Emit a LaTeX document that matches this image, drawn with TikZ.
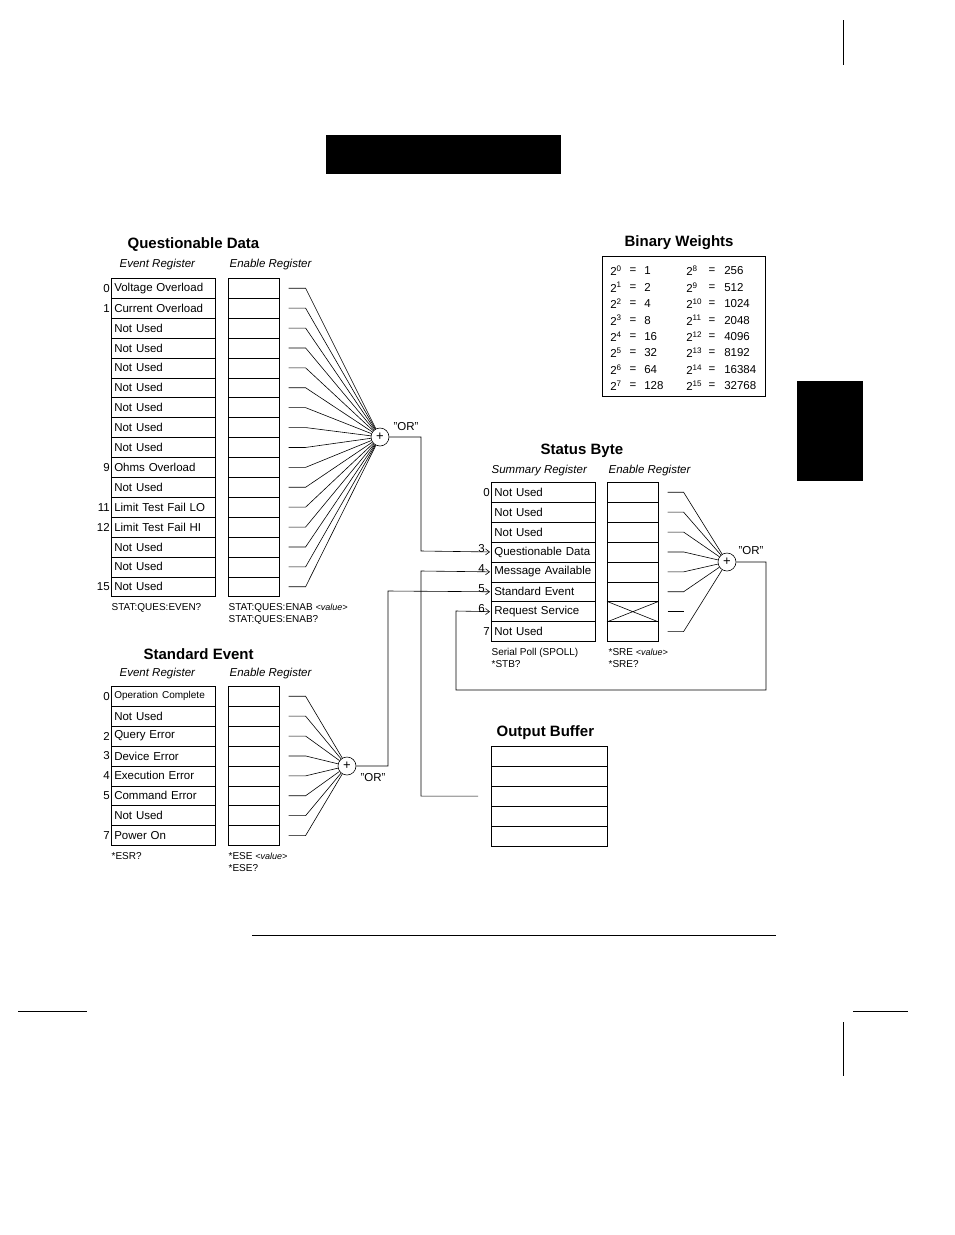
\documentclass[tikz,border=0pt]{standalone}
\usepackage{fontspec}
\setmainfont{Liberation Sans}
\usetikzlibrary{arrows.meta, positioning, calc}

\begin{document}
\begin{tikzpicture}[
    x=1pt, y=-1pt,
    font=\fontsize{11.5}{13}\selectfont,
    line width=0.6pt,
    cell/.style={draw, minimum height=19.9pt, inner xsep=3pt, inner ysep=0pt, anchor=north west, align=left},
    evcell/.style={cell, text width=98pt, minimum width=104pt},
    encell/.style={cell, minimum width=51pt},
    orgate/.style={draw, circle, fill=white, minimum size=18pt, inner sep=0pt, font=\fontsize{13}{13}\selectfont},
    title/.style={font=\fontsize{15}{17}\selectfont\bfseries, anchor=west},
    head/.style={font=\fontsize{11.5}{13}\selectfont\itshape, anchor=west},
    cmd/.style={font=\fontsize{10}{12}\selectfont, anchor=west, align=left},
    bitnum/.style={anchor=east, inner sep=1pt},
    feed/.style={-{Straight Barb[length=4pt, width=6pt]}}
]
    \useasboundingbox (0,0) rectangle (954,1235);

    % Page marks
    \fill (326,135) rectangle (561,174);
    \fill (797,381) rectangle (863,481);
    \draw (843,20) -- (843,65);
    \draw (252,935) -- (776,935);
    \draw (18,1011) -- (87,1011);
    \draw (853,1011) -- (908,1011);
    \draw (843,1022) -- (843,1076);

    % Questionable Data
    \node[title] at (124,245) {Questionable Data};
    \node[head] at (116,265) {Event Register};
    \node[head] at (226,265) {Enable Register};
    \node[orgate] (qor) at (380,437) {+};
    \node[anchor=west] at (390,427) {"OR"};
    \foreach \t [count=\i from 0] in {Voltage Overload, Current Overload, Not Used, Not Used,
        Not Used, Not Used, Not Used, Not Used, Not Used, Ohms Overload, Not Used,
        Limit Test Fail LO, Limit Test Fail HI, Not Used, Not Used, Not Used} {
        \pgfmathsetmacro\yy{278+19.9*\i}
        \node[evcell] (qe\i) at (111,\yy) {\t};
        \node[encell] (qn\i) at (228,\yy) {};
        \coordinate (qs\i) at ($(qn\i.east)+(9,0)$);
        \draw (qs\i) -- ++(17,0) -- (qor);
    }
    \foreach \b in {0,1,9,11,12,15} {
        \node[bitnum] at (qe\b.west) {\b\ };
    }
    \node[cmd] at (108,608) {STAT:QUES:EVEN?};
    \node[cmd] at (225,614) {STAT:QUES:ENAB {\fontsize{9}{11}\selectfont\itshape <value>}\\STAT:QUES:ENAB?};

    % Binary Weights
    \node[title] at (621,243) {Binary Weights};
    \draw (602,256) rectangle (765,396);
    \foreach \n/\v [count=\i from 0] in {0/1, 1/2, 2/4, 3/8, 4/16, 5/32, 6/64, 7/128} {
        \pgfmathsetmacro\yy{271+16.4*\i}
        \node[anchor=west, inner sep=0pt] at (610,\yy) {2\textsuperscript{\n}};
        \node[inner sep=0pt] at (633,\yy) {=};
        \node[anchor=west, inner sep=0pt] at (644,\yy) {\v};
    }
    \foreach \n/\v [count=\i from 0] in {8/256, 9/512, 10/1024, 11/2048, 12/4096, 13/8192, 14/16384, 15/32768} {
        \pgfmathsetmacro\yy{271+16.4*\i}
        \node[anchor=west, inner sep=0pt] at (686,\yy) {2\textsuperscript{\n}};
        \node[inner sep=0pt] at (712,\yy) {=};
        \node[anchor=west, inner sep=0pt] at (724,\yy) {\v};
    }

    % Status Byte
    \node[title] at (537,451) {Status Byte};
    \node[head] at (488,471) {Summary Register};
    \node[head] at (605,471) {Enable Register};
    \node[orgate] (sor) at (727,562) {+};
    \node[anchor=west] at (735,551) {"OR"};
    \foreach \t [count=\i from 0] in {Not Used, Not Used, Not Used, Questionable Data,
        Message Available, Standard Event, Request Service, Not Used} {
        \pgfmathsetmacro\yy{482+19.9*\i}
        \node[evcell] (se\i) at (491,\yy) {\t};
        \node[encell] (sn\i) at (607,\yy) {};
    }
    \foreach \i in {0,1,2,3,4,5,7} {
        \coordinate (ss\i) at ($(sn\i.east)+(9,0)$);
        \draw (ss\i) -- ++(16,0) -- (sor);
    }
    \coordinate (ss6) at ($(sn6.east)+(9,0)$);
    \draw (ss6) -- ++(16,0);
    \draw (sn6.north west) -- (sn6.south east) (sn6.south west) -- (sn6.north east);
    \foreach \b in {0,7} {
        \node[bitnum] at (se\b.west) {\b\ };
    }
    \foreach \b in {3,4,5,6} {
        \node[bitnum, anchor=south east, inner sep=0pt] at ($(se\b.west)+(-6,1)$) {\b};
    }
    \node[cmd] at (488,658) {Serial Poll (SPOLL)\\*STB?};
    \node[cmd] at (605,658) {*SRE {\fontsize{9}{11}\selectfont\itshape <value>}\\*SRE?};

    % Standard Event
    \node[title] at (140,654) {Standard Event};
    \node[head] at (116,674) {Event Register};
    \node[head] at (226,674) {Enable Register};
    \node[orgate] (eor) at (347,766) {+};
    \node[anchor=west] at (357,778) {"OR"};
    \foreach \t [count=\i from 0] in {{\fontsize{10}{12}\selectfont Operation Complete}, Not Used,
        Query Error, Device Error, Execution Error, Command Error, Not Used, Power On} {
        \pgfmathsetmacro\yy{686+19.9*\i}
        \node[evcell] (ee\i) at (111,\yy) {\t};
        \node[encell] (en\i) at (228,\yy) {};
        \coordinate (es\i) at ($(en\i.east)+(9,0)$);
        \draw (es\i) -- ++(17,0) -- (eor);
    }
    \foreach \b in {0,2,3,4,5,7} {
        \node[bitnum] at (ee\b.west) {\b\ };
    }
    \node[cmd] at (108,856) {*ESR?};
    \node[cmd] at (225,862) {*ESE {\fontsize{9}{11}\selectfont\itshape <value>}\\*ESE?};

    % Output Buffer
    \node[title] at (493,733) {Output Buffer};
    \foreach \i in {0,...,4} {
        \pgfmathsetmacro\yy{746+19.9*\i}
        \node[cell, minimum width=116pt] (ob\i) at (491,\yy) {};
    }

    % Summary connections
    \draw[feed] (qor.east) -| (421,551) -- ($(se3.west)+(-1,0)$);
    \coordinate (obtap) at ($(ob2.west)+(-13,0)$);
    \draw[feed] (obtap) -| (421,571) -- ($(se4.west)+(-1,0)$);
    \draw[feed] (eor.east) -| (388,591) -- ($(se5.west)+(-1,0)$);
    \draw[feed] (sor.east) -| (766,690) -| (456,611) -- ($(se6.west)+(-1,0)$);
\end{tikzpicture}
\end{document}
